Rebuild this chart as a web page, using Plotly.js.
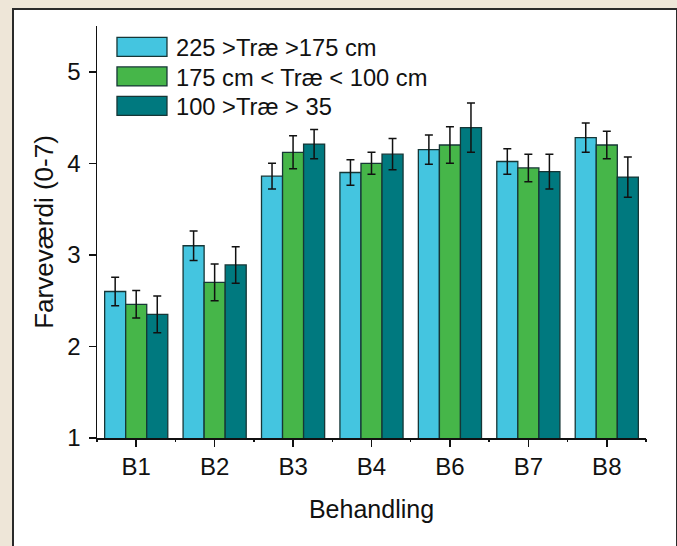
<!DOCTYPE html>
<html>
<head>
<meta charset="utf-8">
<script src="https://cdn.plot.ly/plotly-3.0.1.min.js"></script>
<style>
  html, body { margin: 0; padding: 0; }
  body { width: 677px; height: 546px; background: #EEE6D8; position: relative; overflow: hidden; }
  #panel { position: absolute; left: 12px; top: 8px; width: 662px; height: 560px; background: #ffffff; border: 2px solid #2a2a2a; }
  #chart { position: absolute; left: 0; top: 0; width: 677px; height: 546px; }
</style>
</head>
<body>
<div id="panel"></div>
<div id="chart"></div>
<script>
const categories = ["B1", "B2", "B3", "B4", "B6", "B7", "B8"];
const seriesNames = ["225 >Træ >175 cm", "175 cm < Træ < 100 cm", "100 >Træ > 35"];
const tall = [2.60, 3.10, 3.86, 3.90, 4.15, 4.02, 4.28];
const tallErr = [0.155, 0.16, 0.14, 0.14, 0.16, 0.14, 0.16];
const medium = [2.46, 2.70, 4.12, 4.00, 4.20, 3.95, 4.20];
const mediumErr = [0.15, 0.20, 0.18, 0.12, 0.20, 0.15, 0.15];
const low = [2.35, 2.89, 4.21, 4.10, 4.39, 3.91, 3.85];
const lowErr = [0.20, 0.20, 0.16, 0.17, 0.27, 0.19, 0.22];
const colors = ["#44C5E0", "#46B649", "#00797F"];
const yTicks = [1, 2, 3, 4, 5];

const values = [tall, medium, low];
const errors = [tallErr, mediumErr, lowErr];

const traces = values.map((v, i) => ({
  type: "bar",
  name: seriesNames[i],
  x: categories,
  y: v,
  base: 0,
  marker: { color: colors[i], line: { color: "#163636", width: 1.3 } },
  error_y: { type: "data", array: errors[i], visible: true, color: "#111111", thickness: 1.5, width: 4 }
}));

const boundaries = categories.map((_, i) => i - 0.5).concat([categories.length - 0.5]);

const fontFam = "Liberation Sans, Arial, Helvetica, sans-serif";

const layout = {
  width: 677, height: 546,
  paper_bgcolor: "rgba(0,0,0,0)",
  plot_bgcolor: "rgba(0,0,0,0)",
  margin: { l: 97, r: 31, t: 26, b: 108 },
  barmode: "group",
  bargap: 0.195,
  bargroupgap: 0,
  font: { family: fontFam, color: "#111111", size: 24 },
  showlegend: true,
  legend: {
    x: 0.02, y: 1.0, xanchor: "left", yanchor: "top",
    bgcolor: "rgba(0,0,0,0)",
    font: { size: 23.7, family: fontFam, color: "#111111" },
    itemwidth: 58,
    tracegroupgap: 0,
    traceorder: "normal"
  },
  xaxis: {
    type: "category",
    range: [-0.5, categories.length - 0.5],
    showline: true, linecolor: "#111111", linewidth: 1.5,
    ticks: "outside", ticklen: 7, tickwidth: 1.5, tickcolor: "#111111",
    showgrid: false, zeroline: false,
    tickfont: { size: 24 },
    title: { text: "Behandling", font: { size: 25 }, standoff: 21 },
    automargin: false
  },
  xaxis2: {
    overlaying: "x",
    range: [-0.5, categories.length - 0.5],
    tickmode: "array", tickvals: boundaries,
    showticklabels: false,
    ticks: "outside", ticklen: 3, tickwidth: 1.5, tickcolor: "#111111",
    showgrid: false, zeroline: false, showline: false,
    side: "bottom"
  },
  yaxis: {
    range: [1, 5.5],
    tickmode: "array", tickvals: yTicks,
    showline: true, linecolor: "#111111", linewidth: 1.5,
    ticks: "outside", ticklen: 7, tickwidth: 1.5, tickcolor: "#111111",
    showgrid: false, zeroline: false,
    tickfont: { size: 24 },
    ticklabelstandoff: 3,
    title: { text: "Farveværdi (0-7)", font: { size: 26 }, standoff: 6 },
    automargin: false
  }
};

// helper trace so the boundary-tick axis is drawn
traces.push({ type: "scatter", x: [], y: [], xaxis: "x2", yaxis: "y", showlegend: false, hoverinfo: "skip" });

Plotly.newPlot("chart", traces, layout, { staticPlot: true, displayModeBar: false }).then(() => {
  document.querySelectorAll("#chart .legend .traces .legendpoints path").forEach(p => {
    p.setAttribute("d", "M-25,-9.5H25V9.5H-25Z");
  });
  const items = Array.from(document.querySelectorAll("#chart .legend .traces"));
  if (items.length) {
    const m = /translate\(\s*([-\d.]+)[ ,]+([-\d.]+)\s*\)/.exec(items[0].getAttribute("transform") || "");
    const x0 = m ? parseFloat(m[1]) : 0;
    const y0 = m ? parseFloat(m[2]) : 0;
    items.forEach((g, i) => g.setAttribute("transform", "translate(" + x0 + "," + (y0 - 1 + i * 29.5) + ")"));
  }
});
</script>
</body>
</html>
